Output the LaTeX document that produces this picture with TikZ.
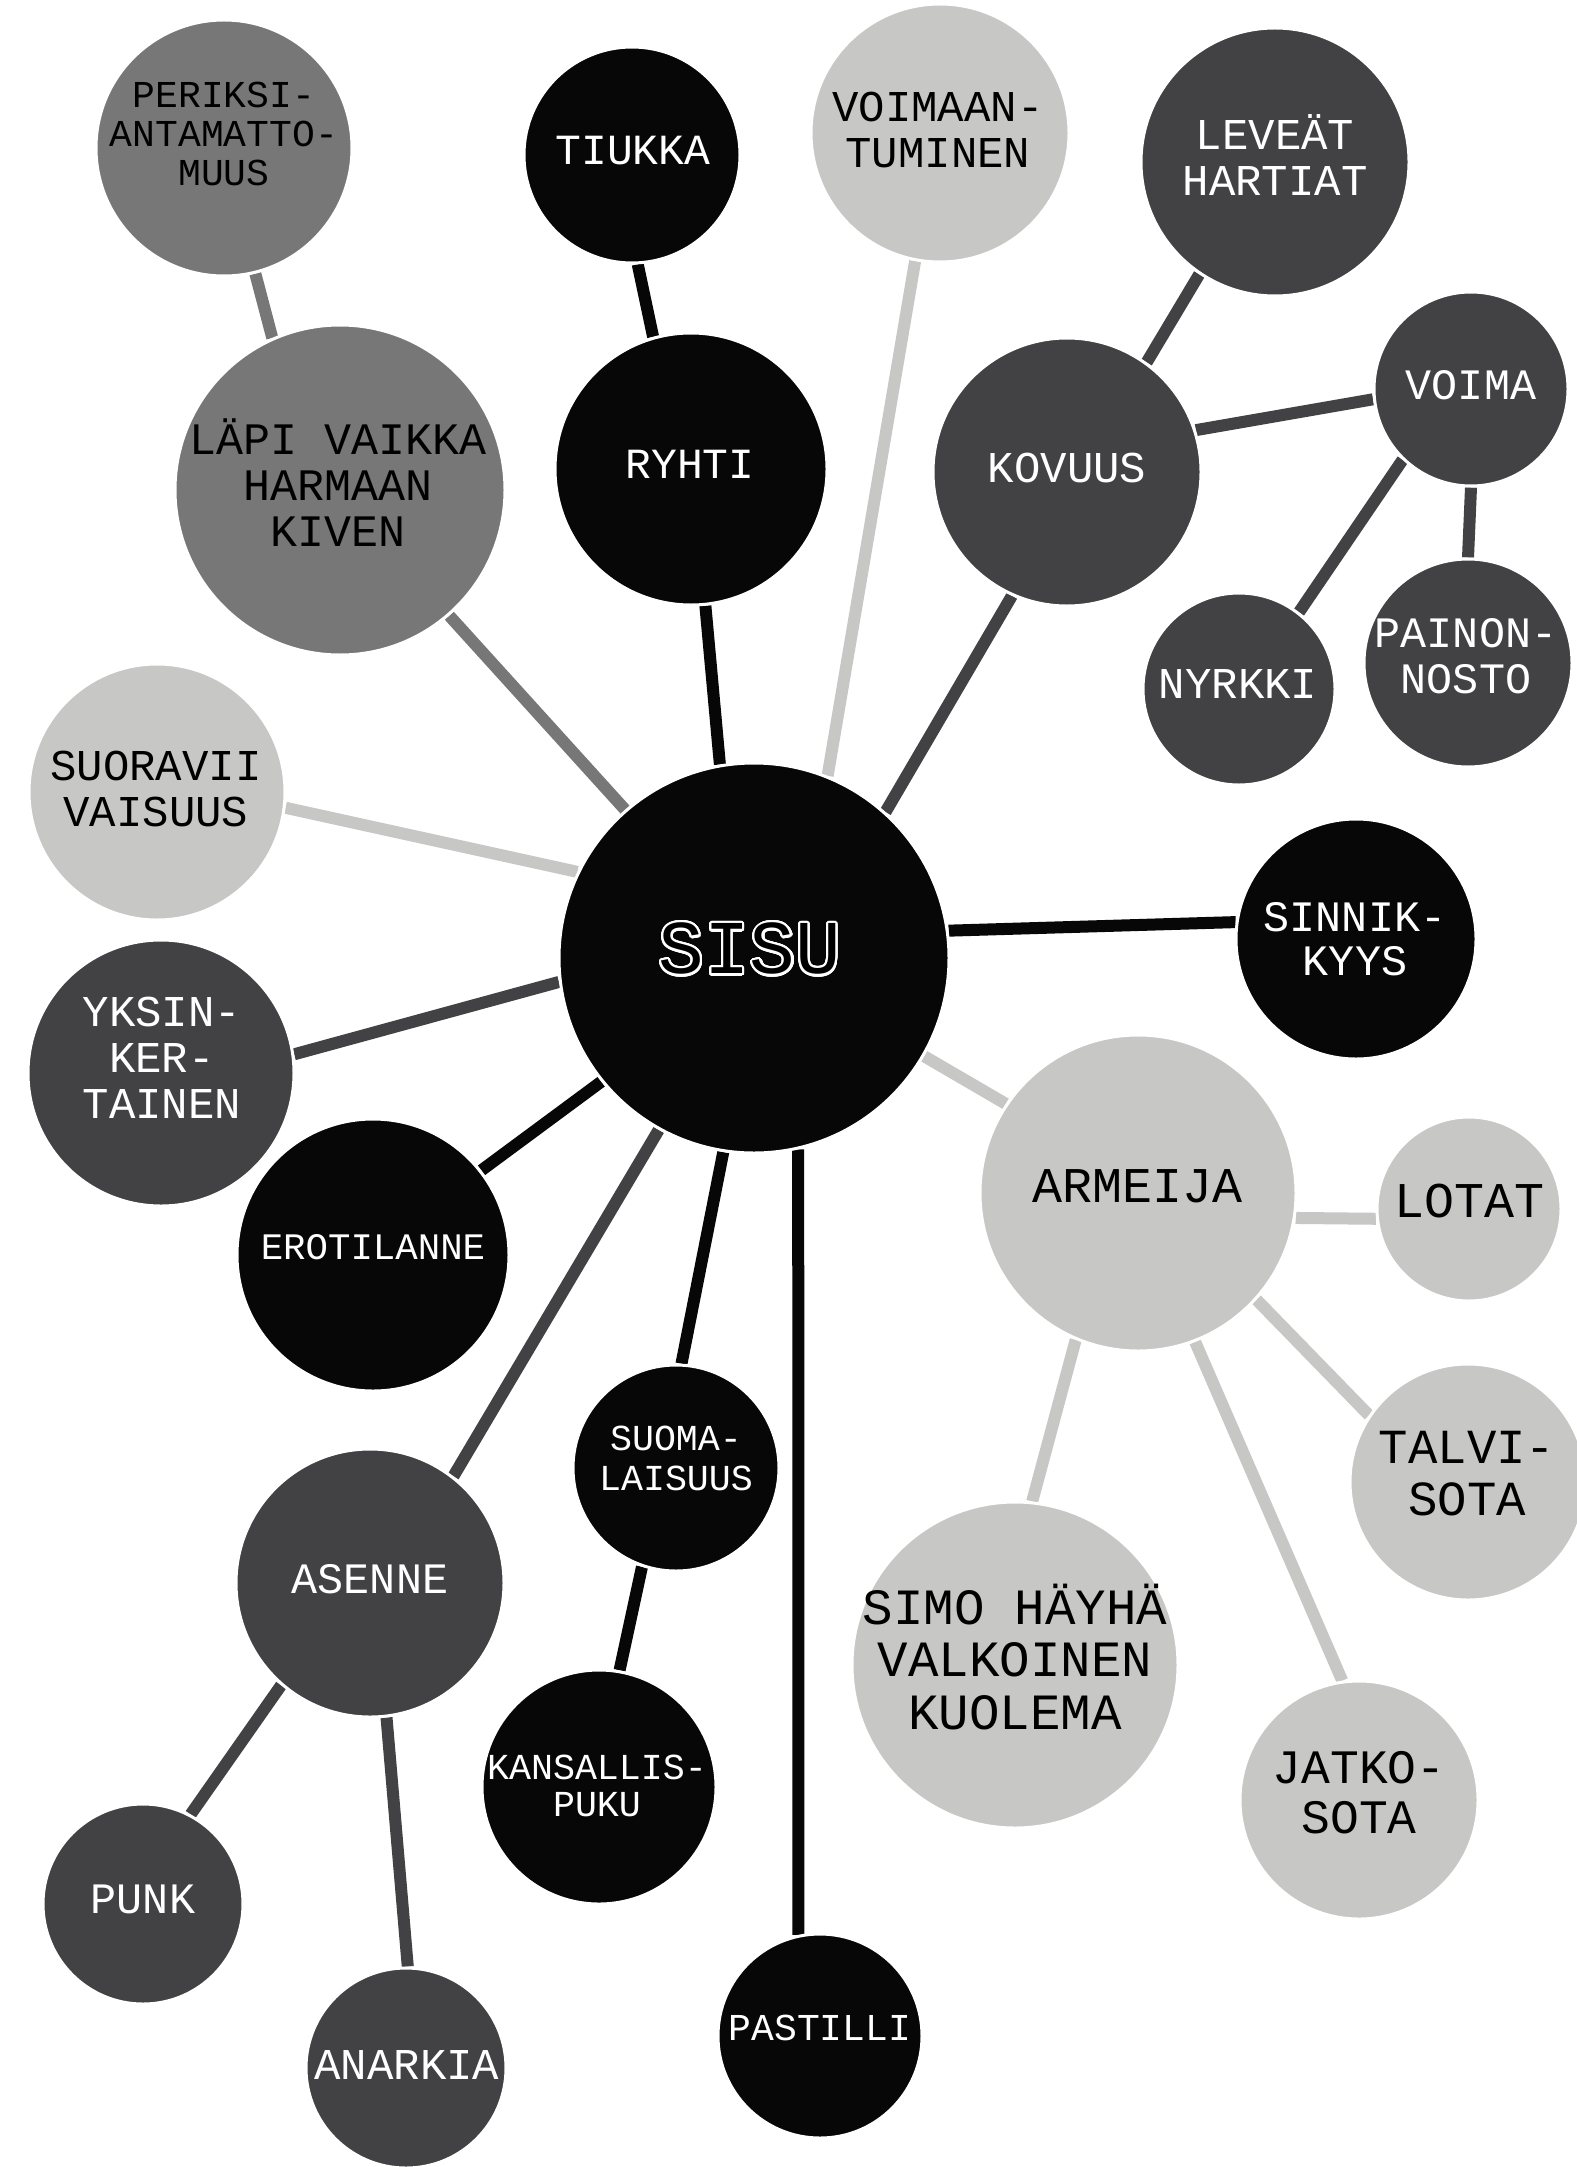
\documentclass[tikz,border=0pt]{standalone}
\usepackage{fontspec}
\newfontfamily\mono{Liberation Mono}
\usepackage{contour}
\contourlength{1.1pt}
\contournumber{32}
\definecolor{cblk}{HTML}{070707}
\definecolor{cdark}{HTML}{424244}
\definecolor{cmid}{HTML}{777777}
\definecolor{clight}{HTML}{C7C7C5}
\pgfdeclarelayer{bgl}
\pgfdeclarelayer{links}
\pgfsetlayers{bgl,links,main}
\tikzset{
  bub/.style={circle, draw=white, line width=1.5pt, inner sep=0pt},
  lk/.style={line width=6pt},
  lbl/.style={inner sep=0pt, align=center},
  tw/.style={text=white},
  tb/.style={text=black},
  fs/.style 2 args={font=\mono\fontsize{#1}{#2}\selectfont}
}
\begin{document}
\begin{tikzpicture}[x=0.5pt,y=-0.5pt]
\useasboundingbox (0,0) rectangle (1576,2167);
\begin{pgfonlayer}{bgl}
\fill[white] (0,0) rectangle (1576,2167);
\end{pgfonlayer}

% circles
\node[bub, fill=cmid,   minimum size=128pt] (periksi)  at (224,148) {};
\node[bub, fill=cblk,   minimum size=108pt] (tiukka)   at (632,155) {};
\node[bub, fill=cmid,   minimum size=165pt] (lapi)     at (340,490) {};
\node[bub, fill=cblk,   minimum size=136pt] (ryhti)    at (691,469) {};
\node[bub, fill=clight, minimum size=129pt] (voimaant) at (940,133) {};
\node[bub, fill=cdark,  minimum size=134pt] (levea)    at (1275,162) {};
\node[bub, fill=cdark,  minimum size=134pt] (kovuus)   at (1067,472) {};
\node[bub, fill=cdark,  minimum size=97pt]  (voima)    at (1471,389) {};
\node[bub, fill=cdark,  minimum size=96pt]  (nyrkki)   at (1239,689) {};
\node[bub, fill=cdark,  minimum size=104pt] (painon)   at (1468,663) {};
\node[bub, fill=clight, minimum size=128pt] (suora)    at (157,792) {};
\node[bub, fill=cblk,   minimum size=195pt] (sisu)     at (754,958) {};
\node[bub, fill=cblk,   minimum size=120pt] (sinnik)   at (1356,939) {};
\node[bub, fill=cdark,  minimum size=133pt] (yksin)    at (161,1073) {};
\node[bub, fill=cblk,   minimum size=136pt] (erot)     at (373,1255) {};
\node[bub, fill=clight, minimum size=158pt] (armeija)  at (1138,1193) {};
\node[bub, fill=clight, minimum size=92pt]  (lotat)    at (1469,1209) {};
\node[bub, fill=clight, minimum size=118pt] (talvi)    at (1468,1482) {};
\node[bub, fill=cblk,   minimum size=103pt] (suoma)    at (676,1468) {};
\node[bub, fill=cdark,  minimum size=134pt] (asenne)   at (370,1583) {};
\node[bub, fill=clight, minimum size=163pt] (simo)     at (1015,1665) {};
\node[bub, fill=clight, minimum size=119pt] (jatko)    at (1359,1800) {};
\node[bub, fill=cblk,   minimum size=117pt] (kansa)    at (599,1787) {};
\node[bub, fill=cdark,  minimum size=100pt] (punk)     at (143,1904) {};
\node[bub, fill=cdark,  minimum size=100pt] (anarkia)  at (406,2068) {};
\node[bub, fill=cblk,   minimum size=102pt] (pastilli) at (820,2036) {};

% connectors
\begin{pgfonlayer}{links}
\draw[lk, draw=cmid]   (periksi.-76) -- (lapi.114);
\draw[lk, draw=cblk]   (tiukka.-87) -- (ryhti.106);
\draw[lk, draw=cmid]   (lapi.-49) -- (sisu.131);
\draw[lk, draw=cblk]   (ryhti.-84) -- (sisu.100);
\draw[lk, draw=clight] (voimaant.-101) -- (sisu.68);
\draw[lk, draw=cdark]  (kovuus.-114) -- (sisu.48);
\draw[lk, draw=cblk]   (sisu.8.5) -- (sinnik.172);
\draw[lk, draw=clight] (sisu.-30) -- (armeija.146);
\draw[lk, draw=cblk]   (sisu.-77) -- (pastilli.102);
\draw[lk, draw=cblk]   (sisu.-99) -- (suoma.87);
\draw[lk, draw=cdark]  (sisu.-119) -- (asenne.52);
\draw[lk, draw=cblk]   (sisu.-141) -- (erot.38);
\draw[lk, draw=cdark]  (sisu.187.5) -- (yksin.8);
\draw[lk, draw=clight] (sisu.154) -- (suora.-7);
\draw[lk, draw=cdark]  (levea.-124) -- (kovuus.54);
\draw[lk, draw=cdark]  (kovuus.18) -- (voima.186);
\draw[lk, draw=cdark]  (voima.-134) -- (nyrkki.52);
\draw[lk, draw=cdark]  (voima.-90) -- (painon.90);
\draw[lk, draw=clight] (armeija.-9) -- (lotat.186);
\draw[lk, draw=clight] (armeija.-42.5) -- (talvi.146);
\draw[lk, draw=clight] (armeija.-113) -- (simo.84.5);
\draw[lk, draw=clight] (armeija.-69) -- (jatko.98.5);
\draw[lk, draw=cdark]  (asenne.-131) -- (punk.62);
\draw[lk, draw=cdark]  (asenne.-83) -- (anarkia.89);
\draw[lk, draw=cblk]   (suoma.-109) -- (kansa.80);
\end{pgfonlayer}

% labels
\node[lbl, tb, fs={19pt}{19.5pt}] (periksi-t) at (224,134) {PERIKSI-\\ANTAMATTO-\\MUUS};
\node[lbl, tw, fs={21.5pt}{22pt}] (tiukka-t) at (633,151) {TIUKKA};
\node[lbl, tb, fs={22.5pt}{23pt}] (lapi-t) at (338,483) {LÄPI VAIKKA\\HARMAAN\\KIVEN};
\node[lbl, tw, fs={21.5pt}{22pt}] (ryhti-t) at (690,464) {RYHTI};
\node[lbl, tb, fs={22pt}{23pt}] (voimaant-t) at (938,130) {VOIMAAN-\\TUMINEN};
\node[lbl, tw, fs={22pt}{23pt}] (levea-t) at (1275,155) {LEVEÄT\\HARTIAT};
\node[lbl, tw, fs={22pt}{23pt}] (kovuus-t) at (1067,468) {KOVUUS};
\node[lbl, tw, fs={21.7pt}{23pt}] (voima-t) at (1471,385) {VOIMA};
\node[lbl, tw, fs={22pt}{23pt}] (nyrkki-t) at (1238,684) {NYRKKI};
\node[lbl, tw, fs={21.7pt}{23pt}] (painon-t) at (1466,656) {PAINON-\\NOSTO};
\node[lbl, tb, fs={22pt}{23pt}] (suora-t) at (156,789) {SUORAVII\\VAISUUS};
\node[lbl, tw, fs={22pt}{23pt}] (yksin-t) at (162,1058) {YKSIN-\\KER-\\TAINEN};
\node[lbl, tw, fs={18.7pt}{19.5pt}] (erot-t) at (373,1247) {EROTILANNE};
\node[lbl, text=black, font=\mono\fontsize{38pt}{40pt}\selectfont] (sisu-t) at (750,950) {\contour{white}{SISU}};
\node[lbl, tw, fs={21.7pt}{22pt}] (sinnik-t) at (1355,939) {SINNIK-\\KYYS};
\node[lbl, tb, fs={25pt}{26pt}] (armeija-t) at (1138,1186) {ARMEIJA};
\node[lbl, tb, fs={25pt}{26pt}] (lotat-t) at (1469,1201) {LOTAT};
\node[lbl, tb, fs={24.5pt}{26pt}] (talvi-t) at (1467,1474) {TALVI-\\SOTA};
\node[lbl, tb, fs={25.4pt}{26.3pt}] (simo-t) at (1015,1657) {SIMO HÄYHÄ\\VALKOINEN\\KUOLEMA};
\node[lbl, tb, fs={24pt}{25pt}] (jatko-t) at (1359,1793) {JATKO-\\SOTA};
\node[lbl, tw, fs={18.3pt}{20pt}] (suoma-t) at (676,1458) {SUOMA-\\LAISUUS};
\node[lbl, tw, fs={18.3pt}{18.7pt}] (kansa-t) at (597,1786) {KANSALLIS-\\PUKU};
\node[lbl, tw, fs={19pt}{20pt}] (pastilli-t) at (820,2028) {PASTILLI};
\node[lbl, tw, fs={21.7pt}{23pt}] (asenne-t) at (370,1579) {ASENNE};
\node[lbl, tw, fs={21.7pt}{23pt}] (punk-t) at (143,1899) {PUNK};
\node[lbl, tw, fs={22pt}{23pt}] (anarkia-t) at (407,2065) {ANARKIA};
\end{tikzpicture}
\end{document}
